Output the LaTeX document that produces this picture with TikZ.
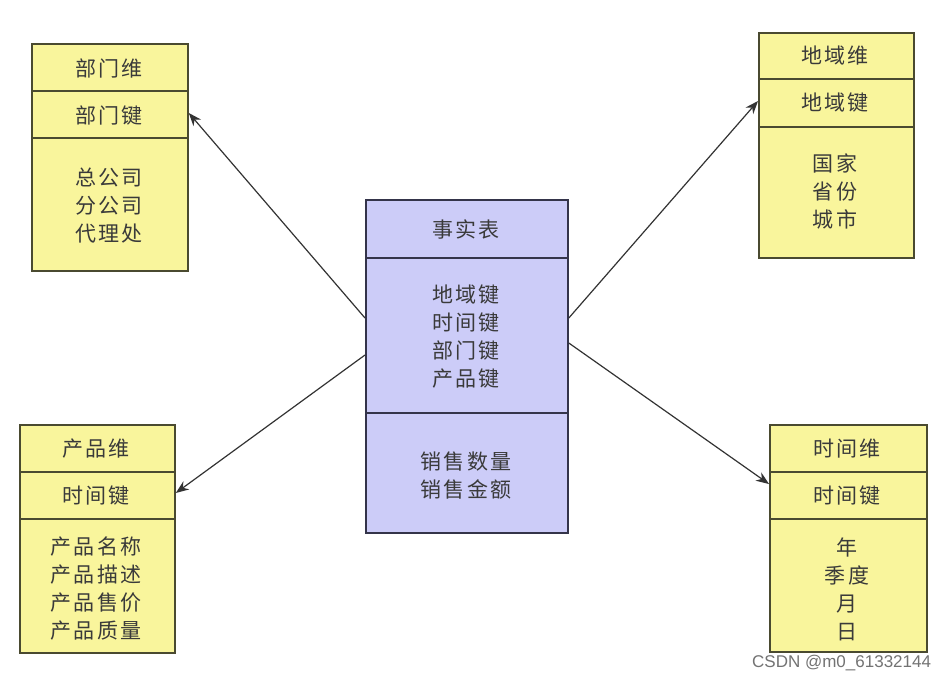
\documentclass[tikz,border=0pt]{standalone}
\usepackage{fontspec}
\newfontfamily\cjk[LetterSpace=10]{Noto Sans CJK SC}
\setmainfont{Liberation Sans}
\usetikzlibrary{arrows.meta}
\definecolor{yfill}{HTML}{F9F59C}
\definecolor{pfill}{HTML}{CCCCF8}
\definecolor{yedge}{HTML}{4A4A30}
\definecolor{pedge}{HTML}{34344A}
\definecolor{txt}{HTML}{3A3A3A}
\tikzset{
  ybox/.style={draw=yedge, fill=yfill, line width=1.8pt, rectangle, anchor=north west, inner sep=0pt},
  pbox/.style={draw=pedge, fill=pfill, line width=1.8pt, rectangle, anchor=north west, inner sep=0pt},
  ydiv/.style={draw=yedge, line width=1.8pt},
  pdiv/.style={draw=pedge, line width=1.8pt},
  lbl/.style={font=\cjk\fontsize{21}{28}\selectfont, text=txt, align=center, inner sep=0pt},
  conn/.style={draw=black!80, line width=1.2pt, -{Stealth[length=13pt,width=10pt]}},
  wm/.style={font=\fontsize{17}{17}\selectfont, text=black!55, inner sep=0pt, anchor=west}
}
\begin{document}
\begin{tikzpicture}[x=1pt,y=-1pt]
\useasboundingbox[fill=white] (0,0) rectangle (945,680);
% boxes
\node[ybox, minimum width=156pt, minimum height=227pt] (dept) at (31,43) {};
\node[ybox, minimum width=155pt, minimum height=225pt] (region) at (758,32) {};
\node[ybox, minimum width=155pt, minimum height=228pt] (prod) at (19,424) {};
\node[ybox, minimum width=157pt, minimum height=227pt] (time) at (769,424) {};
\node[pbox, minimum width=202pt, minimum height=333pt] (fact) at (365,199) {};
% dividers
\draw[ydiv] (dept.west |- 0,91) -- (dept.east |- 0,91);
\draw[ydiv] (dept.west |- 0,138) -- (dept.east |- 0,138);
\draw[ydiv] (region.west |- 0,79) -- (region.east |- 0,79);
\draw[ydiv] (region.west |- 0,127) -- (region.east |- 0,127);
\draw[ydiv] (prod.west |- 0,472) -- (prod.east |- 0,472);
\draw[ydiv] (prod.west |- 0,519) -- (prod.east |- 0,519);
\draw[ydiv] (time.west |- 0,472) -- (time.east |- 0,472);
\draw[ydiv] (time.west |- 0,519) -- (time.east |- 0,519);
\draw[pdiv] (fact.west |- 0,258) -- (fact.east |- 0,258);
\draw[pdiv] (fact.west |- 0,413) -- (fact.east |- 0,413);
% texts
\node[lbl] (d1) at (109,68) {部门维};
\node[lbl] (d2) at (109,116) {部门键};
\node[lbl] (d3) at (109,206) {总公司\\分公司\\代理处};
\node[lbl] (r1) at (835,56) {地域维};
\node[lbl] (r2) at (835,103) {地域键};
\node[lbl] (r3) at (835,191) {国家\\省份\\城市};
\node[lbl] (p1) at (96,449) {产品维};
\node[lbl] (p2) at (96,496) {时间键};
\node[lbl] (p3) at (96,589) {产品名称\\产品描述\\产品售价\\产品质量};
\node[lbl] (t1) at (847,449) {时间维};
\node[lbl] (t2) at (847,496) {时间键};
\node[lbl] (t3) at (847,589) {年\\季度\\月\\日};
\node[lbl] (f1) at (466,229) {事实表};
\node[lbl] (f2) at (466,337) {地域键\\时间键\\部门键\\产品键};
\node[lbl] (f3) at (466,476) {销售数量\\销售金额};
% anchor points for connectors
\coordinate (fL1) at (fact.west |- 0,318);
\coordinate (fL2) at (fact.west |- 0,355);
\coordinate (fR1) at (fact.east |- 0,318);
\coordinate (fR2) at (fact.east |- 0,343);
\coordinate (dE) at (dept.east |- 0,113);
\coordinate (rW) at (region.west |- 0,101);
\coordinate (pE) at (prod.east |- 0,493);
\coordinate (tW) at (time.west |- 0,484);
\draw[conn] (fL1) -- (dE);
\draw[conn] (fL2) -- (pE);
\draw[conn] (fR1) -- (rW);
\draw[conn] (fR2) -- (tW);
% watermark
\node[wm] (wmk) at (752,663) {CSDN @m0\_61332144};
\end{tikzpicture}
\end{document}
